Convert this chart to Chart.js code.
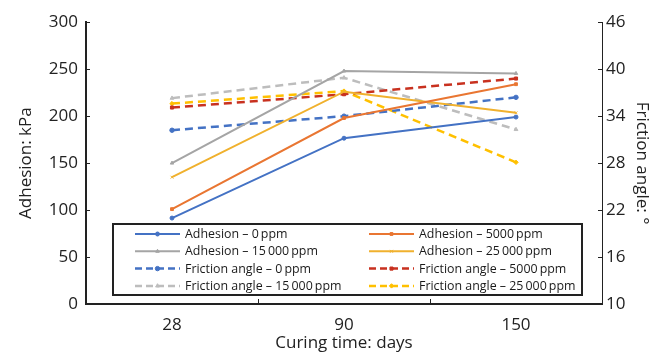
<!DOCTYPE html>
<html>
<head>
<meta charset="utf-8">
<script src="https://cdn.jsdelivr.net/npm/chart.js@4.4.1/dist/chart.umd.min.js"></script>
<style>
  html, body { margin: 0; padding: 0; background: #fff; }
  #wrap { width: 664px; height: 355px; }
</style>
</head>
<body>
<div id="wrap"><canvas id="chart" width="664" height="355"></canvas></div>
<script>
// data
const days = ['28', '90', '150'];
const adh0 = [91.5, 176.5, 199];
const adh5000 = [101, 198, 234];
const adh15000 = [150, 248, 245.5];
const adh25000 = [135, 226, 203.5];
const fa0 = [32.2, 34.0, 36.4];
const fa5000 = [35.1, 36.8, 38.8];
const fa15000 = [36.3, 38.9, 32.3];
const fa25000 = [35.6, 37.2, 28.1];

const font = 'Open Sans';
const dash = [8, 5];

function solid(label, data, color, style) {
    return { label, data, yAxisID: 'y', borderColor: color, backgroundColor: color,
        borderWidth: 2, pointStyle: style, pointRadius: 2, pointBorderWidth: 1, tension: 0 };
}
function dashed(label, data, color, style) {
    return { label, data, yAxisID: 'y2', borderColor: color, backgroundColor: color,
        borderWidth: 2.5, borderDash: dash, pointStyle: style, pointRadius: 2.2, pointBorderWidth: 1, tension: 0 };
}

// legend drawn inside the plot, two columns
const boxLegend = {
    id: 'boxLegend',
    afterDraw(chart) {
        const ctx = chart.ctx;
        const x0 = 113, y0 = 224, w = 469, h = 71;
        ctx.save();
        ctx.fillStyle = '#fff';
        ctx.fillRect(x0, y0, w, h);
        ctx.lineWidth = 2;
        ctx.strokeStyle = '#222';
        ctx.strokeRect(x0, y0, w, h);
        ctx.font = '12.4px "' + font + '"';
        ctx.textBaseline = 'middle';
        chart.data.datasets.forEach((ds, i) => {
            const col = i % 2, row = Math.floor(i / 2);
            const lx = col === 0 ? 135 : 369;
            const ly = 234 + row * 17.3;
            ctx.strokeStyle = ds.borderColor;
            ctx.lineWidth = ds.borderWidth;
            ctx.setLineDash(ds.borderDash ? [7, 4] : []);
            ctx.beginPath();
            ctx.moveTo(lx, ly);
            ctx.lineTo(lx + 45, ly);
            ctx.stroke();
            ctx.setLineDash([]);
            ctx.lineWidth = 1;
            ctx.fillStyle = ds.borderColor;
            Chart.helpers.drawPoint(ctx, { pointStyle: ds.pointStyle, radius: ds.pointRadius, rotation: 0, borderWidth: 1 }, lx + 22.5, ly);
            ctx.fillStyle = '#1a1a1a';
            ctx.fillText(ds.label, lx + 50, ly + 0.5);
        });
        ctx.restore();
    }
};

new Chart(document.getElementById('chart'), {
    type: 'line',
    data: {
        labels: days,
        datasets: [
            solid('Adhesion \u2013 0\u2009ppm', adh0, '#4472C4', 'circle'),
            solid('Adhesion \u2013 5000\u2009ppm', adh5000, '#E97632', 'rect'),
            solid('Adhesion \u2013 15\u2009000\u2009ppm', adh15000, '#A5A5A5', 'triangle'),
            solid('Adhesion \u2013 25\u2009000\u2009ppm', adh25000, '#F0B12E', 'crossRot'),
            dashed('Friction angle \u2013 0\u2009ppm', fa0, '#4472C4', 'circle'),
            dashed('Friction angle \u2013 5000\u2009ppm', fa5000, '#C8311F', 'rect'),
            dashed('Friction angle \u2013 15\u2009000\u2009ppm', fa15000, '#BDBDBD', 'triangle'),
            dashed('Friction angle \u2013 25\u2009000\u2009ppm', fa25000, '#FFC000', 'rectRot')
        ]
    },
    options: {
        responsive: false,
        animation: false,
        layout: { padding: { top: 18, left: 0, right: 0, bottom: 0 } },
        plugins: { legend: { display: false }, tooltip: { enabled: false } },
        scales: {
            x: {
                type: 'category',
                offset: true,
                grid: { offset: true, drawOnChartArea: false, tickLength: -5, color: '#222', lineWidth: 1 },
                border: { color: '#222', width: 2 },
                ticks: { color: '#222', font: { family: font, size: 17 }, padding: 16, maxRotation: 0 },
                title: { display: true, text: 'Curing time: days', color: '#222', font: { family: font, size: 17 }, padding: { top: 0, bottom: 2 } },
                afterFit(s) { s.height = 51; }
            },
            y: {
                position: 'left',
                min: 0, max: 300,
                ticks: { stepSize: 50, color: '#222', font: { family: font, size: 17 }, padding: 12 },
                grid: { drawOnChartArea: false, tickLength: -4, color: '#222' },
                border: { color: '#222', width: 2 },
                title: { display: true, text: 'Adhesion: kPa', color: '#222', font: { family: font, size: 17 }, padding: { top: 16, bottom: 0 } },
                afterFit(s) { s.width = 86; }
            },
            y2: {
                position: 'right',
                min: 10, max: 46,
                ticks: { stepSize: 6, color: '#222', font: { family: font, size: 17 }, padding: 8 },
                grid: { drawOnChartArea: false, tickLength: -4, color: '#222' },
                border: { color: '#222', width: 1, dash: [3, 2] },
                title: { display: true, text: 'Friction angle: \u00b0', color: '#222', font: { family: font, size: 17 }, padding: { top: 12, bottom: 0 } },
                afterFit(s) { s.width = 62; }
            }
        }
    },
    plugins: [boxLegend]
});
</script>
</body>
</html>
